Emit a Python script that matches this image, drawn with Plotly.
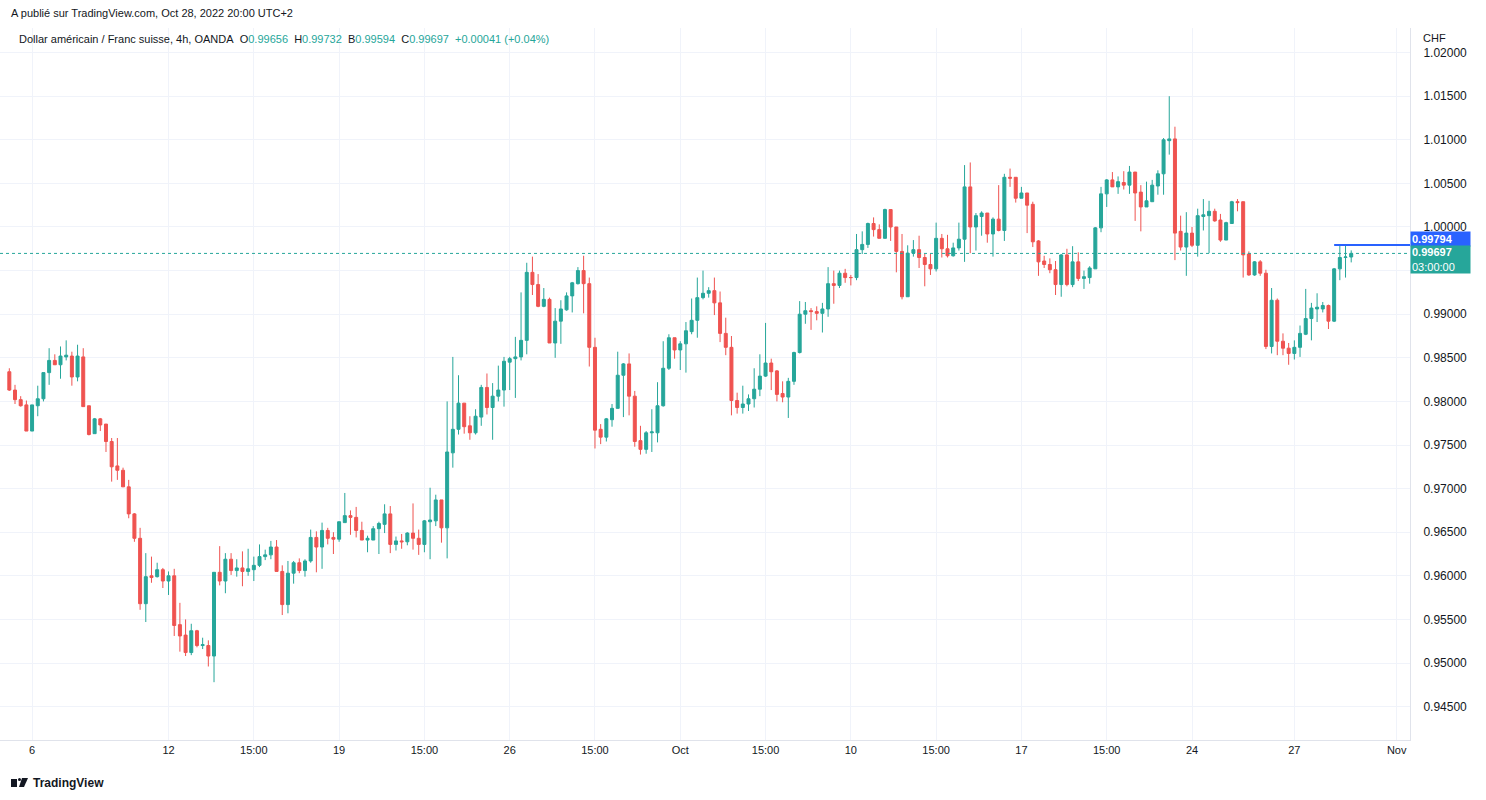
import datetime as dt
import plotly.graph_objects as go

# USD/CHF 4h (OANDA), candles: Sep 5 11:00 -> Oct 28 19:00 (UTC+2)
opens = [
    0.9834, 0.9813, 0.9802, 0.9796, 0.9766, 0.9795, 0.9803, 0.9833, 0.9847, 0.9842,
    0.9851, 0.9852, 0.9828, 0.9851, 0.9795, 0.9763, 0.9780, 0.9774, 0.9754, 0.9726,
    0.9721, 0.9702, 0.9671, 0.9643, 0.9568, 0.9600, 0.9599, 0.9607, 0.9594, 0.9600,
    0.9544, 0.9532, 0.9512, 0.9537, 0.9520, 0.9520, 0.9508, 0.9604, 0.9594, 0.9619,
    0.9606, 0.9609, 0.9605, 0.9607, 0.9612, 0.9622, 0.9624, 0.9633, 0.9605, 0.9567,
    0.9603, 0.9615, 0.9606, 0.9617, 0.9644, 0.9633, 0.9652, 0.9644, 0.9642, 0.9661,
    0.9669, 0.9667, 0.9652, 0.9641, 0.9641, 0.9654, 0.9659, 0.9671, 0.9636, 0.9640,
    0.9639, 0.9649, 0.9643, 0.9636, 0.9662, 0.9663, 0.9687, 0.9655, 0.9741, 0.9768,
    0.9798, 0.9772, 0.9764, 0.9782, 0.9816, 0.9793, 0.9806, 0.9813, 0.9845, 0.9849,
    0.9851, 0.9870, 0.9948, 0.9934, 0.9909, 0.9917, 0.9867, 0.9892, 0.9905, 0.9921,
    0.9935, 0.9950, 0.9935, 0.9862, 0.9768, 0.9759, 0.9779, 0.9792, 0.9830, 0.9843,
    0.9806, 0.9755, 0.9745, 0.9764, 0.9764, 0.9795, 0.9838, 0.9873, 0.9859, 0.9866,
    0.9880, 0.9893, 0.9919, 0.9924, 0.9927, 0.9913, 0.9878, 0.9862, 0.9801, 0.9793,
    0.9797, 0.9803, 0.9814, 0.9829, 0.9844, 0.9835, 0.9809, 0.9805, 0.9823, 0.9856,
    0.9900, 0.9904, 0.9903, 0.9901, 0.9906, 0.9935, 0.9933, 0.9947, 0.9942, 0.9942,
    0.9974, 0.9980, 1.0004, 0.9997, 0.9987, 1.0020, 1.0000, 0.9972, 0.9920, 0.9970,
    0.9974, 0.9965, 0.9957, 0.9952, 0.9987, 0.9975, 0.9967, 0.9976, 0.9986, 1.0046,
    1.0000, 1.0012, 1.0016, 0.9992, 1.0009, 0.9996, 1.0057, 1.0057, 1.0033, 1.0039,
    1.0026, 0.9984, 0.9961, 0.9957, 0.9951, 0.9934, 0.9968, 0.9934, 0.9960, 0.9941,
    0.9942, 0.9952, 0.9999, 1.0038, 1.0054, 1.0046, 1.0051, 1.0048, 1.0063, 1.0040,
    1.0023, 1.0029, 1.0047, 1.0061, 1.0099, 1.0101, 0.9995, 0.9977, 0.9993, 0.9979,
    1.0012, 1.0013, 1.0018, 1.0008, 0.9985, 1.0004, 1.0029, 1.0029, 0.9969, 0.9945,
    0.9960, 0.9947, 0.9863, 0.9916, 0.9869, 0.9861, 0.9855, 0.9862, 0.9877, 0.9895,
    0.9906, 0.9906, 0.9910, 0.9892, 0.9952, 0.9965, 0.99656,
]
highs = [
    0.9838, 0.9819, 0.9806, 0.9801, 0.9796, 0.9818, 0.9833, 0.9861, 0.9854, 0.9863,
    0.9870, 0.9857, 0.9865, 0.9861, 0.9795, 0.9781, 0.9781, 0.9774, 0.9758, 0.9758,
    0.9724, 0.9710, 0.9672, 0.9655, 0.9626, 0.9622, 0.9615, 0.9609, 0.9605, 0.9608,
    0.9569, 0.9550, 0.9545, 0.9538, 0.9529, 0.9526, 0.9604, 0.9634, 0.9626, 0.9626,
    0.9619, 0.9628, 0.9631, 0.9622, 0.9636, 0.9630, 0.9640, 0.9641, 0.9612, 0.9617,
    0.9617, 0.9620, 0.9619, 0.9653, 0.9651, 0.9661, 0.9655, 0.9650, 0.9662, 0.9695,
    0.9675, 0.9679, 0.9662, 0.9646, 0.9657, 0.9662, 0.9682, 0.9680, 0.9645, 0.9648,
    0.9650, 0.9683, 0.9653, 0.9664, 0.9701, 0.9693, 0.9687, 0.9800, 0.9851, 0.9830,
    0.9798, 0.9783, 0.9791, 0.9819, 0.9832, 0.9821, 0.9841, 0.9851, 0.9851, 0.9874,
    0.9925, 0.9959, 0.9966, 0.9946, 0.9930, 0.9919, 0.9907, 0.9916, 0.9925, 0.9937,
    0.9954, 0.9967, 0.9942, 0.9873, 0.9774, 0.9781, 0.9797, 0.9857, 0.9844, 0.9855,
    0.9812, 0.9772, 0.9766, 0.9791, 0.9822, 0.9869, 0.9877, 0.9873, 0.9869, 0.9891,
    0.9918, 0.9942, 0.9950, 0.9931, 0.9942, 0.9926, 0.9896, 0.9875, 0.9810, 0.9818,
    0.9808, 0.9838, 0.9854, 0.9890, 0.9849, 0.9836, 0.9823, 0.9827, 0.9857, 0.9915,
    0.9914, 0.9907, 0.9909, 0.9913, 0.9954, 0.9950, 0.9950, 0.9952, 0.9945, 0.9992,
    0.9995, 1.0005, 1.0011, 1.0003, 1.0021, 1.0020, 1.0000, 0.9992, 0.9979, 0.9985,
    0.9990, 0.9969, 0.9969, 1.0005, 0.9992, 0.9991, 0.9982, 1.0005, 1.0071, 1.0074,
    1.0016, 1.0018, 1.0016, 1.0011, 1.0048, 1.0061, 1.0067, 1.0057, 1.0046, 1.0039,
    1.0029, 0.9985, 0.9967, 0.9964, 0.9961, 0.9969, 0.9975, 0.9978, 0.9971, 0.9950,
    0.9955, 1.0000, 1.0046, 1.0055, 1.0063, 1.0058, 1.0064, 1.0070, 1.0063, 1.0048,
    1.0052, 1.0054, 1.0065, 1.0102, 1.0150, 1.0115, 1.0013, 1.0017, 1.0000, 1.0021,
    1.0032, 1.0030, 1.0021, 1.0015, 1.0006, 1.0030, 1.0032, 1.0029, 0.9972, 0.9961,
    0.9962, 0.9951, 0.9930, 0.9918, 0.9878, 0.9867, 0.9870, 0.9887, 0.9929, 0.9913,
    0.9924, 0.9914, 0.9911, 0.9953, 0.9980, 0.9979, 0.99732,
]
lows = [
    0.9812, 0.9797, 0.9794, 0.9766, 0.9766, 0.9783, 0.9800, 0.9819, 0.9842, 0.9826,
    0.9847, 0.9818, 0.9823, 0.9794, 0.9761, 0.9763, 0.9766, 0.9742, 0.9708, 0.9710,
    0.9702, 0.9666, 0.9639, 0.9561, 0.9547, 0.9592, 0.9598, 0.9586, 0.9578, 0.9531,
    0.9513, 0.9508, 0.9509, 0.9518, 0.9516, 0.9496, 0.9478, 0.9589, 0.9580, 0.9601,
    0.9599, 0.9588, 0.9600, 0.9594, 0.9610, 0.9618, 0.9619, 0.9605, 0.9555, 0.9557,
    0.9591, 0.9603, 0.9599, 0.9615, 0.9604, 0.9608, 0.9636, 0.9625, 0.9639, 0.9661,
    0.9647, 0.9644, 0.9641, 0.9627, 0.9641, 0.9625, 0.9649, 0.9626, 0.9629, 0.9631,
    0.9635, 0.9630, 0.9624, 0.9627, 0.9619, 0.9657, 0.9638, 0.9620, 0.9724, 0.9762,
    0.9763, 0.9756, 0.9762, 0.9772, 0.9785, 0.9756, 0.9800, 0.9794, 0.9813, 0.9804,
    0.9847, 0.9854, 0.9922, 0.9908, 0.9908, 0.9867, 0.9850, 0.9866, 0.9904, 0.9902,
    0.9934, 0.9901, 0.9840, 0.9746, 0.9751, 0.9754, 0.9771, 0.9792, 0.9782, 0.9784,
    0.9748, 0.9739, 0.9740, 0.9742, 0.9753, 0.9794, 0.9836, 0.9849, 0.9836, 0.9833,
    0.9877, 0.9873, 0.9917, 0.9919, 0.9899, 0.9868, 0.9853, 0.9784, 0.9786, 0.9786,
    0.9789, 0.9793, 0.9806, 0.9828, 0.9813, 0.9800, 0.9799, 0.9781, 0.9819, 0.9855,
    0.9889, 0.9882, 0.9893, 0.9879, 0.9897, 0.9912, 0.9930, 0.9936, 0.9933, 0.9939,
    0.9969, 0.9976, 0.9989, 0.9987, 0.9987, 0.9984, 0.9948, 0.9917, 0.9920, 0.9966,
    0.9953, 0.9932, 0.9945, 0.9949, 0.9965, 0.9965, 0.9966, 0.9973, 0.9960, 0.9970,
    0.9973, 0.9990, 0.9982, 0.9966, 0.9995, 0.9984, 1.0046, 1.0028, 1.0033, 0.9993,
    0.9977, 0.9944, 0.9953, 0.9947, 0.9922, 0.9920, 0.9932, 0.9931, 0.9938, 0.9929,
    0.9935, 0.9952, 0.9994, 1.0023, 1.0046, 1.0038, 1.0043, 1.0038, 1.0007, 0.9995,
    1.0023, 1.0029, 1.0037, 1.0037, 1.0083, 0.9962, 0.9973, 0.9944, 0.9977, 0.9966,
    0.9996, 0.9970, 1.0006, 0.9983, 0.9985, 1.0004, 1.0018, 0.9942, 0.9944, 0.9944,
    0.9944, 0.9860, 0.9855, 0.9853, 0.9853, 0.9842, 0.9848, 0.9851, 0.9876, 0.9870,
    0.9891, 0.9902, 0.9883, 0.9891, 0.9939, 0.9942, 0.99594,
]
closes = [
    0.9813, 0.9802, 0.9795, 0.9766, 0.9796, 0.9803, 0.9833, 0.9847, 0.9842, 0.9852,
    0.9853, 0.9828, 0.9852, 0.9794, 0.9762, 0.9780, 0.9773, 0.9754, 0.9725, 0.9721,
    0.9702, 0.9671, 0.9643, 0.9568, 0.9599, 0.9598, 0.9607, 0.9594, 0.9600, 0.9543,
    0.9531, 0.9512, 0.9537, 0.9520, 0.9521, 0.9508, 0.9604, 0.9594, 0.9619, 0.9606,
    0.9609, 0.9605, 0.9608, 0.9612, 0.9622, 0.9624, 0.9633, 0.9605, 0.9567, 0.9603,
    0.9615, 0.9606, 0.9617, 0.9644, 0.9633, 0.9652, 0.9643, 0.9642, 0.9662, 0.9669,
    0.9667, 0.9652, 0.9641, 0.9643, 0.9654, 0.9660, 0.9671, 0.9636, 0.9640, 0.9639,
    0.9649, 0.9643, 0.9636, 0.9663, 0.9664, 0.9687, 0.9655, 0.9742, 0.9768, 0.9798,
    0.9771, 0.9764, 0.9783, 0.9816, 0.9793, 0.9806, 0.9813, 0.9846, 0.9849, 0.9851,
    0.9870, 0.9948, 0.9934, 0.9909, 0.9917, 0.9867, 0.9892, 0.9906, 0.9921, 0.9936,
    0.9950, 0.9935, 0.9862, 0.9767, 0.9759, 0.9780, 0.9792, 0.9830, 0.9843, 0.9806,
    0.9754, 0.9745, 0.9764, 0.9765, 0.9795, 0.9838, 0.9873, 0.9859, 0.9866, 0.9881,
    0.9893, 0.9919, 0.9924, 0.9927, 0.9913, 0.9878, 0.9862, 0.9801, 0.9793, 0.9797,
    0.9803, 0.9814, 0.9829, 0.9844, 0.9834, 0.9808, 0.9805, 0.9823, 0.9856, 0.9900,
    0.9904, 0.9903, 0.9901, 0.9906, 0.9935, 0.9933, 0.9947, 0.9942, 0.9942, 0.9974,
    0.9980, 1.0004, 0.9997, 0.9987, 1.0020, 1.0000, 0.9972, 0.9920, 0.9970, 0.9974,
    0.9965, 0.9957, 0.9952, 0.9987, 0.9975, 0.9967, 0.9976, 0.9986, 1.0046, 1.0000,
    1.0013, 1.0016, 0.9992, 1.0009, 0.9996, 1.0057, 1.0056, 1.0033, 1.0039, 1.0025,
    0.9983, 0.9960, 0.9957, 0.9951, 0.9934, 0.9968, 0.9934, 0.9960, 0.9941, 0.9943,
    0.9953, 0.9999, 1.0038, 1.0054, 1.0046, 1.0052, 1.0048, 1.0063, 1.0039, 1.0023,
    1.0030, 1.0048, 1.0061, 1.0100, 1.0101, 0.9993, 0.9977, 0.9993, 0.9979, 1.0013,
    1.0014, 1.0018, 1.0007, 0.9985, 1.0005, 1.0029, 1.0028, 0.9968, 0.9945, 0.9960,
    0.9947, 0.9863, 0.9916, 0.9869, 0.9861, 0.9855, 0.9862, 0.9878, 0.9895, 0.9907,
    0.9908, 0.9910, 0.9892, 0.9952, 0.9965, 0.99656, 0.99697,
]

# time axis labels (bar open times, UTC+2)
tick_times = [
    "2022-09-06 03:00", "2022-09-12 03:00", "2022-09-14 15:00", "2022-09-19 03:00",
    "2022-09-21 15:00", "2022-09-26 03:00", "2022-09-28 15:00", "2022-10-03 03:00",
    "2022-10-05 15:00", "2022-10-10 03:00", "2022-10-12 15:00", "2022-10-17 03:00",
    "2022-10-19 15:00", "2022-10-24 03:00", "2022-10-27 03:00", "2022-11-01 03:00",
]
tick_labels = ["6", "12", "15:00", "19", "15:00", "26", "15:00", "Oct",
               "15:00", "10", "15:00", "17", "15:00", "24", "27", "Nov"]

price_ticks = [0.945, 0.95, 0.955, 0.96, 0.965, 0.97, 0.975, 0.98, 0.985,
               0.99, 0.995, 1.0, 1.005, 1.01, 1.015, 1.02]

ray_level = 0.99794
ray_start = "2022-10-28 07:00"

UP = '#26a69a'
DOWN = '#ef5350'
TXT = '#131722'
GRID = '#f0f3fa'
FONT = 'Liberation Sans, Arial, sans-serif'


def session_times(start, count):
    """4h forex bars: Sunday 23:00 -> Friday 19:00, weekend skipped"""
    out = []
    t = dt.datetime.strptime(start, "%Y-%m-%d %H:%M")
    while len(out) < count:
        wd, h = t.weekday(), t.hour
        closed = (wd == 4 and h >= 23) or wd == 5 or (wd == 6 and h < 23)
        if not closed:
            out.append(t.strftime("%Y-%m-%d %H:%M"))
        t += dt.timedelta(hours=4)
    return out


times = session_times("2022-09-05 11:00", 260)
pos = {t: i for i, t in enumerate(times)}
n = len(closes)
xs = list(range(n))

# page geometry
W, H = 1486, 800
L, R, T, B = 0, 76, 28, 60
PW, PH = W - L - R, H - T - B


def fx(px):
    return (px - L) / PW


def fy(py):
    return 1 - (py - T) / PH


fig = go.Figure()

fig.add_trace(go.Candlestick(
    x=xs, open=opens, high=highs, low=lows, close=closes,
    increasing=dict(line=dict(color=UP, width=1), fillcolor=UP),
    decreasing=dict(line=dict(color=DOWN, width=1), fillcolor=DOWN),
    whiskerwidth=0,
    hoverinfo='skip',
    showlegend=False,
))

last = closes[-1]
chg = closes[-1] - closes[-2]

shapes = [
    # last price dotted line
    dict(type='line', xref='paper', yref='y', x0=0, x1=1, y0=last, y1=last,
         line=dict(color=UP, width=1, dash='dot')),
    # horizontal ray
    dict(type='line', xref='x', yref='y', x0=pos[ray_start], x1=len(times),
         y0=ray_level, y1=ray_level, line=dict(color='#2962ff', width=2)),
]

ann = []
ann.append(dict(text='A publié sur TradingView.com, Oct 28, 2022 20:00 UTC+2',
                x=fx(9), y=fy(13), xref='paper', yref='paper', xanchor='left',
                yanchor='middle', showarrow=False, font=dict(size=11, color=TXT)))

g = lambda s: f'<span style="color:{UP}">{s}</span>'
sp = '\u00a0\u00a0'
legend_txt = ('Dollar américain / Franc suisse, 4h, OANDA' + sp +
              'O' + g(f'{opens[-1]:.5f}') + sp + 'H' + g(f'{highs[-1]:.5f}') + sp +
              'B' + g(f'{lows[-1]:.5f}') + sp + 'C' + g(f'{closes[-1]:.5f}') + sp +
              g(f'{chg:+.5f} ({chg / closes[-2] * 100:+.2f}%)'))
ann.append(dict(text=legend_txt, x=fx(17), y=fy(39), xref='paper', yref='paper',
                xanchor='left', yanchor='middle', showarrow=False,
                font=dict(size=11, color=TXT)))

ann.append(dict(text='CHF', x=fx(1421), y=fy(38), xref='paper', yref='paper',
                xanchor='left', yanchor='middle', showarrow=False,
                font=dict(size=11, color=TXT)))

# price scale labels
ann.append(dict(text=f'<b>{ray_level:.5f}</b>', x=1, y=ray_level, xref='paper', yref='y',
                xanchor='left', yanchor='bottom', yshift=-2, showarrow=False,
                bgcolor='#2962ff', width=57, height=12, borderpad=1, align='left',
                font=dict(size=11, color='white')))
ann.append(dict(text=f'<b>{last:.5f}</b><br>03:00:00', x=1, y=last, xref='paper', yref='y',
                xanchor='left', yanchor='top', yshift=8, showarrow=False, bgcolor=UP,
                width=57, height=25, borderpad=1, align='left',
                font=dict(size=11, color='white')))

# footer logo
ann.append(dict(text='<b>TradingView</b>', x=fx(31), y=fy(783), xref='paper', yref='paper',
                xanchor='left', yanchor='middle', showarrow=False,
                font=dict(size=12, color=TXT)))
shapes += [
    dict(type='rect', xref='paper', yref='paper', x0=fx(11), x1=fx(17), y0=fy(779), y1=fy(787),
         fillcolor=TXT, line=dict(width=0)),
    dict(type='circle', xref='paper', yref='paper', x0=fx(18), x1=fx(21), y0=fy(778), y1=fy(781),
         fillcolor=TXT, line=dict(width=0)),
    dict(type='path', xref='paper', yref='paper',
         path=f'M {fx(22)} {fy(778)} L {fx(28)} {fy(778)} L {fx(24)} {fy(787)} L {fx(19)} {fy(787)} Z',
         fillcolor=TXT, line=dict(width=0)),
]

fig.update_layout(
    width=W, height=H,
    margin=dict(l=L, r=R, t=T, b=B),
    paper_bgcolor='white', plot_bgcolor='white',
    font=dict(family=FONT, size=11, color=TXT),
    showlegend=False,
    boxgap=0.25,
    shapes=shapes,
    annotations=ann,
    xaxis=dict(
        range=[-1.64, 246.34],
        tickvals=[pos[t] for t in tick_times], ticktext=tick_labels,
        showgrid=True, gridcolor=GRID, gridwidth=1,
        zeroline=False, showline=True, linecolor='#e0e3eb', linewidth=1,
        rangeslider=dict(visible=False), ticks='', tickfont=dict(size=11, color=TXT),
        fixedrange=True,
    ),
    yaxis=dict(
        side='right', range=[0.94117, 1.02282],
        tickvals=price_ticks,
        ticktext=['' if abs(v - 0.995) < 1e-9 else f'{v:.5f}' for v in price_ticks],
        showgrid=True, gridcolor=GRID, gridwidth=1,
        zeroline=False, showline=True, linecolor='#e0e3eb', linewidth=1,
        ticks='', ticklabelstandoff=10, tickfont=dict(size=12, color=TXT),
        fixedrange=True,
    ),
)

fig.write_html("out.html", config={'displayModeBar': False},
               post_script="document.body.style.margin='0';document.body.style.overflow='hidden';")
